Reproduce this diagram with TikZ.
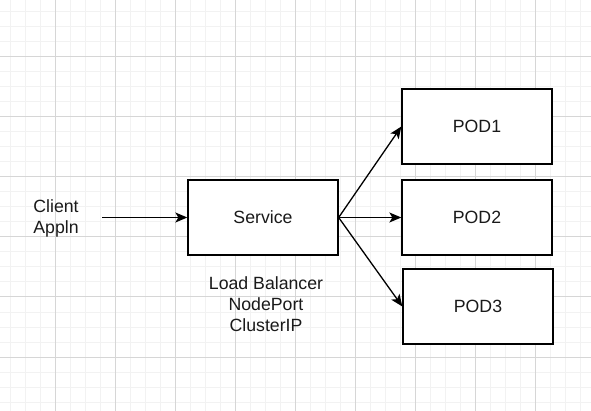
\documentclass[tikz,border=0pt]{standalone}
\usepackage{fontspec}
\setmainfont{Liberation Sans}
\usetikzlibrary{arrows.meta}
\definecolor{gridminor}{HTML}{F2F2F2}
\definecolor{gridmajor}{HTML}{D6D6D6}
\definecolor{textdark}{HTML}{1A1A1A}
\begin{document}
\begin{tikzpicture}[x=1pt,y=-1pt,
  minorline/.style={draw=gridminor,line width=1pt},
  majorline/.style={draw=gridmajor,line width=1pt},
  box/.style={draw=black,line width=1.3pt,fill=white,minimum width=150pt,minimum height=75pt,inner sep=0pt,
    font=\fontsize{17.7}{21}\selectfont,text=textdark},
  label/.style={align=center,inner sep=0pt,font=\fontsize{17.7}{21}\selectfont,text=textdark},
  arr/.style={draw=black,line width=1.3pt,-{Stealth[length=12pt,width=10pt,inset=3pt]}}]
\fill[white] (0,0) rectangle (591,411);
\useasboundingbox (0,0) rectangle (591,411);
% grid
\foreach \x in {10,25,...,590} \draw[minorline] (\x,0) -- (\x,411);
\foreach \y in {12,27,...,410} \draw[minorline] (0,\y) -- (591,\y);
\foreach \x in {55,115,...,590} \draw[majorline] (\x,0) -- (\x,411);
\foreach \y in {57,117,...,410} \draw[majorline] (0,\y) -- (591,\y);
% nodes
\node[box] (svc) at (263,217.5) {Service};
\node[box] (p1) at (477,126.5) {POD1};
\node[box] (p2) at (477,217.5) {POD2};
\node[box] (p3) at (478,306.5) {POD3};
\node[label] (client) at (56,218) {Client\\Appln};
\node[label] (types) at (266,304.6) {Load Balancer\\NodePort\\ClusterIP};
\coordinate (cstart) at (102,217.5);
% connectors
\draw[arr] (cstart) -- (svc.west);
\draw[arr] (svc.east) -- (p1.west);
\draw[arr] (svc.east) -- (p2.west);
\draw[arr] (svc.east) -- (p3.west);
\end{tikzpicture}
\end{document}
